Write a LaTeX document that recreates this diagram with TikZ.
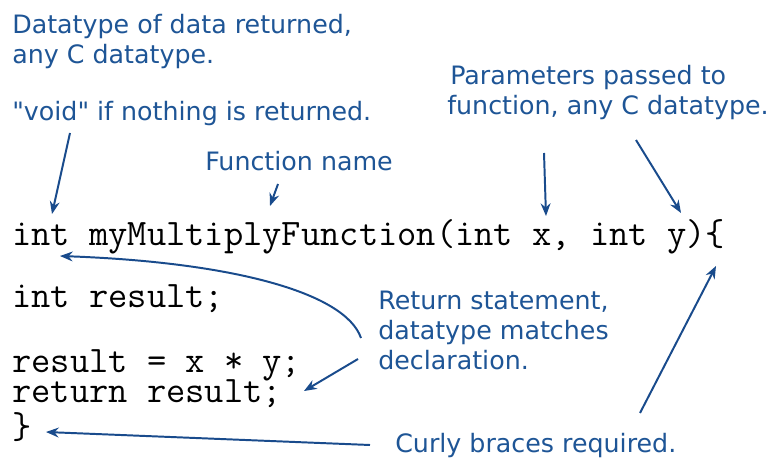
\documentclass[tikz,border=0pt]{standalone}
\usepackage{fontspec}
\setmainfont{DejaVu Sans}
\usetikzlibrary{arrows.meta}
\definecolor{noteblue}{RGB}{30,85,150}
\definecolor{arrowblue}{RGB}{25,75,140}
\tikzset{
	note/.style = {anchor = base west, inner sep = 0pt, text = noteblue,
		font = \fontsize{18}{21.3}\selectfont},
	code/.style = {anchor = base west, inner sep = 0pt,
		font = \ttfamily\fontsize{26.6}{21.3}\selectfont},
	pointer/.style = {draw = arrowblue, line width = 1.4pt,
		-{Stealth[length = 9pt, width = 7pt]}}
}
\begin{document}
\begin{tikzpicture}[x = 0.025cm, y = -0.025cm]
	
	\useasboundingbox[fill = white] (0,0) rectangle (780,458);
	
	% notes
	\node[note] (rettype1) at (12,34) {Datatype of data returned,};
	\node[note] (rettype2) at (12,64) {any C datatype.};
	\node[note] (rettype3) at (12,121) {\textquotedbl void\textquotedbl{} if nothing is returned.};
	\node[note] (fname) at (205,171) {Function name};
	\node[note] (params1) at (450,85) {Parameters passed to};
	\node[note] (params2) at (447,115) {function, any C datatype.};
	\node[note] (retstmt1) at (378,309) {Return statement,};
	\node[note] (retstmt2) at (378,339) {datatype matches};
	\node[note] (retstmt3) at (378,369) {declaration.};
	\node[note] (braces) at (395,452) {Curly braces required.};
	
	% code
	\node[code] (head) at (12,245) {int myMultiplyFunction(int x, int y)\{};
	\node[code] (decl) at (12,307) {int result;};
	\node[code] (calc) at (12,372) {result = x * y;};
	\node[code] (ret) at (12,402) {return result;};
	\node[code] (close) at (12,438) {\}};
	
	% arrow ends
	\coordinate (T-int) at (52,214);
	\coordinate (T-name) at (270,206);
	\coordinate (T-x) at (546,216);
	\coordinate (T-y) at (681,213);
	\coordinate (T-int2) at (60,256);
	\coordinate (T-ret) at (304,391);
	\coordinate (T-close) at (46,432);
	\coordinate (T-open) at (716,266);
	
	\draw[pointer] (70,133) -- (T-int);
	\draw[pointer] (278,184) -- (T-name);
	\draw[pointer] (544,153) -- (T-x);
	\draw[pointer] (636,140) -- (T-y);
	\draw[pointer] (361,338) .. controls (345,292) and (230,262) .. (T-int2);
	\draw[pointer] (358,359) -- (T-ret);
	\draw[pointer] (370,445) -- (T-close);
	\draw[pointer] (640,413) -- (T-open);
	
\end{tikzpicture}
\end{document}
